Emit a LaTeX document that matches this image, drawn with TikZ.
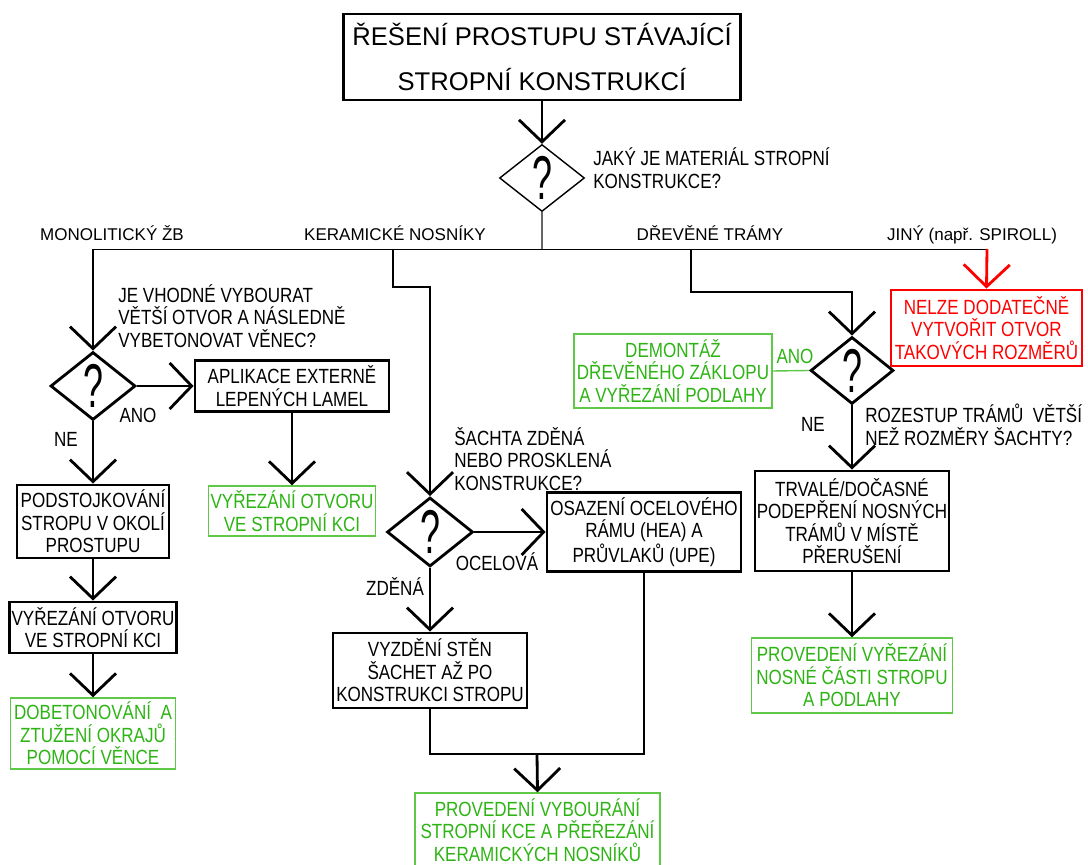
\documentclass[tikz,border=0pt]{standalone}
\usepackage{fontspec}
\setmainfont{Liberation Sans}
\newfontfamily\narrowfont{Liberation Sans}[FakeStretch=0.83]
\newfontfamily\qmarkfont{Liberation Sans}[FakeStretch=0.58]
\usetikzlibrary{arrows.meta,shapes.geometric}
\definecolor{okgreen}{RGB}{45,180,20}
\definecolor{okframe}{RGB}{95,200,70}
\definecolor{nored}{RGB}{255,0,0}

\begin{document}
\begin{tikzpicture}[x=0.025cm,y=-0.025cm,
  boxsize/.style 2 args={minimum width=#1*0.025cm,minimum height=#2*0.025cm},
  stepbox/.style={draw,line width=2pt,inner sep=0pt,align=center,
    font=\narrowfont\fontsize{14.6pt}{16pt}\selectfont},
  endbox/.style={stepbox,draw=okframe,line width=1pt,text=okgreen},
  stopbox/.style={stepbox,draw=nored,text=nored},
  ask/.style={diamond,draw,line width=2pt,inner sep=0pt,
    font=\qmarkfont\fontsize{44pt}{44pt}\selectfont},
  asktext/.style={anchor=west,align=left,inner sep=0pt,
    font=\narrowfont\fontsize{14.6pt}{16pt}\selectfont},
  answer/.style={inner sep=0pt,font=\narrowfont\fontsize{14.6pt}{16pt}\selectfont},
  branch/.style={anchor=base,inner sep=0pt,font=\fontsize{12.1pt}{14pt}\selectfont},
  flow/.style={line width=2pt,-{Straight Barb[length=5.5mm,width=11.5mm]}},
  bus/.style={line width=0.7pt}]
  \useasboundingbox (0,0) rectangle (1088,865);
  \clip (0,0) rectangle (1088,865);

  \node[stepbox,boxsize={397}{86},font=\fontsize{18.2pt}{32pt}\selectfont] (title) at (542,57)
    {ŘEŠENÍ PROSTUPU STÁVAJÍCÍ\\STROPNÍ KONSTRUKCÍ};
  \node[ask,line width=1pt,boxsize={85}{67}] (d1) at (542,178) {?};
  \node[asktext] (q1) at (593,168) {JAKÝ JE MATERIÁL STROPNÍ\\KONSTRUKCE?};

  \node[branch] (mono) at (112,241) {MONOLITICKÝ ŽB};
  \node[branch] (kera) at (395,241) {KERAMICKÉ NOSNÍKY};
  \node[branch] (drev) at (710,241) {DŘEVĚNÉ TRÁMY};
  \node[branch] (jiny) at (972,241) {JINÝ (např. SPIROLL)};

  \coordinate (hub) at (542,249);
  \coordinate (busL) at (93,249);
  \coordinate (busR) at (987,249);
  \coordinate (b2) at (393,249);
  \coordinate (b3) at (691,249);

  % monoliticky zb
  \node[ask,boxsize={85}{68}] (d2) at (93,386) {?};
  \node[asktext] (q2) at (118,316) {JE VHODNÉ VYBOURAT\\VĚTŠÍ OTVOR A NÁSLEDNĚ\\VYBETONOVAT VĚNEC?};
  \node[answer] (ano1) at (138,415) {ANO};
  \node[answer] (ne1) at (66,439) {NE};
  \node[stepbox,boxsize={194}{51}] (apl) at (292,386) {APLIKACE EXTERNĚ\\LEPENÝCH LAMEL};
  \node[endbox,boxsize={167}{50}] (vyr2) at (292,511) {VYŘEZÁNÍ OTVORU\\VE STROPNÍ KCI};
  \node[stepbox,boxsize={152}{73}] (podst) at (93,521.5) {PODSTOJKOVÁNÍ\\STROPU V OKOLÍ\\PROSTUPU};
  \node[stepbox,boxsize={167}{51}] (vyr1) at (93,627.5) {VYŘEZÁNÍ OTVORU\\VE STROPNÍ KCI};
  \node[endbox,boxsize={165}{71}] (dobet) at (93,733.5) {DOBETONOVÁNÍ~~A\\ZTUŽENÍ OKRAJŮ\\POMOCÍ VĚNCE};

  % keramicke nosniky
  \node[ask,boxsize={86}{69}] (d3) at (430,532) {?};
  \node[asktext] (q3) at (454,459) {ŠACHTA ZDĚNÁ\\NEBO PROSKLENÁ\\KONSTRUKCE?};
  \node[answer] (ocelova) at (497,562) {OCELOVÁ};
  \node[answer] (zdena) at (395,587) {ZDĚNÁ};
  \node[stepbox,boxsize={194}{79}] (ocel) at (644,532) {OSAZENÍ OCELOVÉHO\\RÁMU (HEA) A\\PRŮVLAKŮ (UPE)};
  \node[stepbox,boxsize={194}{75}] (vyzd) at (430,670.5) {VYZDĚNÍ STĚN\\ŠACHET AŽ PO\\KONSTRUKCI STROPU};
  \coordinate (merge) at (537,754);
  \node[endbox,boxsize={245}{74}] (prov) at (537.5,830) {PROVEDENÍ VYBOURÁNÍ\\STROPNÍ KCE A PŘEŘEZÁNÍ\\KERAMICKÝCH NOSNÍKŮ};

  % drevene tramy
  \node[ask,boxsize={83}{67}] (d4) at (852,370.5) {?};
  \node[endbox,boxsize={198}{74}] (dem) at (673,371) {DEMONTÁŽ\\DŘEVĚNÉHO ZÁKLOPU\\A VYŘEZÁNÍ PODLAHY};
  \node[answer,text=okgreen] (ano2) at (795,356) {ANO};
  \node[asktext] (q4) at (865,425) {ROZESTUP TRÁMŮ~~VĚTŠÍ\\NEŽ ROZMĚRY ŠACHTY?};
  \node[answer] (ne2) at (813,424) {NE};
  \node[stepbox,boxsize={194}{100}] (trv) at (852,521) {TRVALÉ/DOČASNÉ\\PODEPŘENÍ NOSNÝCH\\TRÁMŮ V MÍSTĚ\\PŘERUŠENÍ};
  \node[endbox,boxsize={201}{75}] (prov2) at (852,675.5) {PROVEDENÍ VYŘEZÁNÍ\\NOSNÉ ČÁSTI STROPU\\A PODLAHY};

  % jiny
  \node[stopbox,boxsize={191}{76}] (nelze) at (986.5,328) {NELZE DODATEČNĚ\\VYTVOŘIT OTVOR\\TAKOVÝCH ROZMĚRŮ};

  \draw[flow] (title.south) -- (d1.north);
  \draw[line width=1.2pt,black!60] (d1.south) -- (hub);
  \draw[bus] (busL) -- (busR);

  \draw[flow] (busL) -- (d2.north);
  \draw[flow] (d2.east) -- (apl.west);
  \draw[flow] (d2.south) -- (podst.north);
  \draw[flow] (podst.south) -- (vyr1.north);
  \draw[flow] (vyr1.south) -- (dobet.north);
  \draw[flow] (apl.south) -- (vyr2.north);

  \draw[flow] (b2) -- ++(0,38) -| (d3.north);
  \draw[flow] (d3.east) -- (ocel.west);
  \draw[flow] (d3.south) -- (vyzd.north);
  \draw[line width=2pt] (vyzd.south) |- (merge) -| (ocel.south);
  \draw[flow] (merge) -- (prov.north);

  \draw[flow] (b3) -- ++(0,43) -| (d4.north);
  \draw[okframe,line width=1pt] (dem.east) -- (d4.west);
  \draw[flow] (d4.south) -- (trv.north);
  \draw[flow] (trv.south) -- (prov2.north);

  \draw[flow,nored] (busR) -- (nelze.north);
\end{tikzpicture}
\end{document}
